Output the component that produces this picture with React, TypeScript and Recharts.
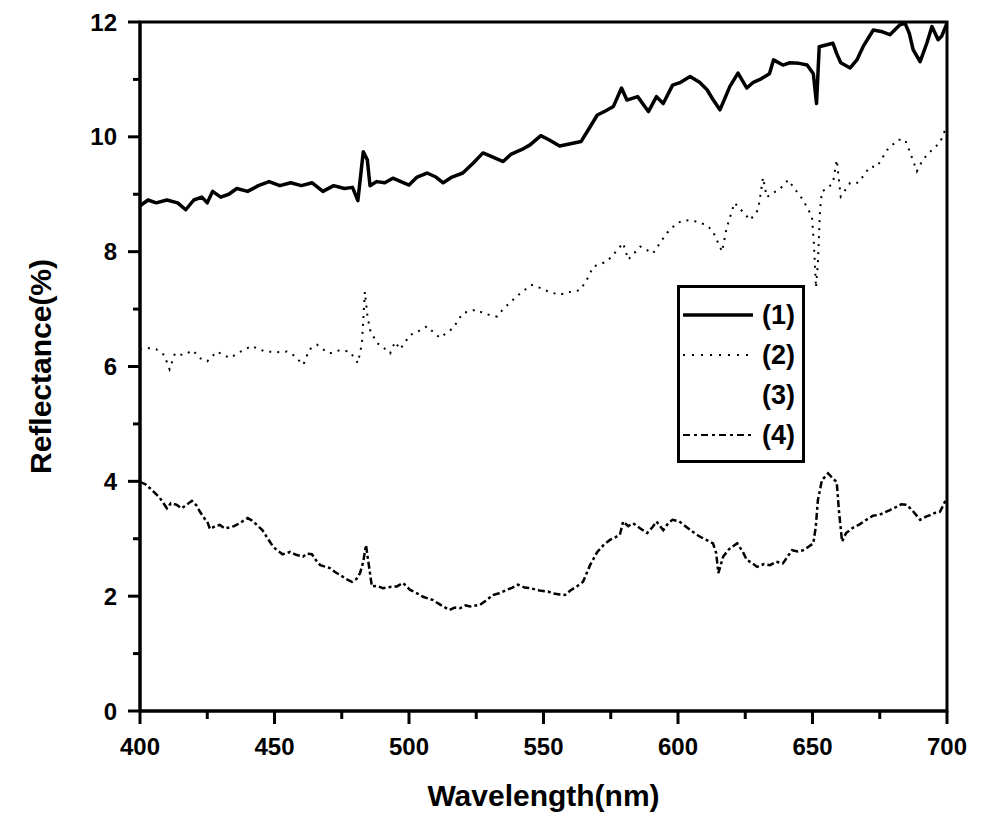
import React from 'react';
import { LineChart, Line, XAxis, YAxis, ReferenceArea, Legend, Label } from 'recharts';

// Series (1): solid
const S1_WL = [400, 403, 406, 410, 414, 417, 420, 423, 425, 427, 430, 433, 436, 440, 444, 448, 452, 456, 460, 464, 468, 472, 476, 479, 481, 483, 484.5, 485.5, 488, 491, 494, 497, 500, 503, 506.7, 510, 512.7, 516, 520, 524, 527.5, 531, 535, 538, 542, 545, 549, 552, 556, 560, 564, 567, 570, 573, 576, 579, 581, 585, 589, 592, 594.5, 598, 601, 604.5, 608, 610.8, 613, 615.6, 619.3, 622.3, 625.6, 628, 630.5, 634, 635.5, 639, 641.6, 645, 648, 650.3, 651.5, 652.5, 655, 657.6, 659, 660.5, 664, 666.5, 668.8, 672.6, 676, 678.8, 682.5, 684.4, 686, 687.4, 690, 692.5, 694.4, 696.7, 698, 700];
const S1_R = [8.8, 8.9, 8.85, 8.9, 8.85, 8.73, 8.9, 8.95, 8.85, 9.05, 8.95, 9.0, 9.1, 9.05, 9.15, 9.22, 9.15, 9.2, 9.15, 9.2, 9.05, 9.15, 9.1, 9.12, 8.89, 9.74, 9.6, 9.15, 9.22, 9.2, 9.28, 9.22, 9.16, 9.3, 9.37, 9.3, 9.2, 9.3, 9.37, 9.55, 9.72, 9.65, 9.57, 9.7, 9.78, 9.86, 10.02, 9.95, 9.84, 9.88, 9.92, 10.15, 10.38, 10.45, 10.53, 10.85, 10.64, 10.7, 10.44, 10.7, 10.58, 10.9, 10.95, 11.05, 10.95, 10.82, 10.65, 10.47, 10.88, 11.11, 10.85, 10.95, 11.0, 11.1, 11.34, 11.25, 11.29, 11.28, 11.25, 11.1, 10.58, 11.57, 11.6, 11.63, 11.45, 11.29, 11.2, 11.34, 11.57, 11.86, 11.83, 11.78, 11.95, 11.98, 11.8, 11.52, 11.31, 11.63, 11.92, 11.69, 11.75, 11.98];

// Series (2): dotted
const S2_WL = [400, 403, 406, 409, 411, 413, 416, 419.7, 422, 425, 428.6, 431, 433.5, 437, 441.6, 444, 447, 451, 454.6, 457, 460.7, 463, 465.8, 468, 470.6, 474, 478, 481, 482.5, 483.6, 484.5, 485.5, 488, 490, 493, 494.8, 496.7, 500.4, 503, 506.7, 509, 511.5, 516.4, 520, 525, 528, 532.7, 535, 538.6, 542, 545.7, 548.7, 552, 556, 560, 563.6, 566, 568.5, 573.6, 576, 579.6, 581.5, 586, 590.7, 594, 596, 599.6, 603, 607.5, 611, 613, 616.4, 618, 621, 624, 626.8, 629.8, 631.6, 633, 635.3, 638, 641, 642.8, 646.5, 649.8, 650.5, 651.3, 652, 652.8, 653.5, 655.5, 657.6, 659, 660.5, 664, 667, 671.4, 674, 677.7, 681.8, 684.4, 686.2, 688.8, 691, 693.7, 697.4, 699.3, 700];
const S2_R = [6.3, 6.32, 6.3, 6.2, 5.95, 6.23, 6.2, 6.28, 6.15, 6.09, 6.26, 6.2, 6.15, 6.25, 6.36, 6.3, 6.26, 6.25, 6.26, 6.2, 6.03, 6.3, 6.38, 6.3, 6.23, 6.28, 6.26, 6.06, 6.4, 7.3, 6.9, 6.64, 6.41, 6.35, 6.23, 6.43, 6.3, 6.55, 6.6, 6.7, 6.6, 6.5, 6.67, 6.93, 6.99, 6.92, 6.87, 7.0, 7.16, 7.3, 7.42, 7.37, 7.3, 7.25, 7.3, 7.33, 7.5, 7.74, 7.83, 7.95, 8.15, 7.86, 8.09, 7.97, 8.2, 8.33, 8.5, 8.55, 8.52, 8.45, 8.35, 8.0, 8.4, 8.85, 8.7, 8.55, 8.73, 9.29, 8.95, 9.02, 9.1, 9.25, 9.13, 8.9, 8.61, 8.15, 7.37, 7.8, 8.73, 9.05, 9.1, 9.2, 9.6, 8.96, 9.2, 9.2, 9.48, 9.48, 9.77, 9.95, 9.95, 9.74, 9.4, 9.6, 9.74, 9.9, 10.12, 10.2];

// Series (4): dash-dot
const S4_WL = [400, 402, 403.7, 405.5, 407.4, 410, 411.5, 413.7, 415.5, 417.5, 419.3, 421, 422.3, 424, 425, 426, 428, 429.7, 431.5, 433.5, 435, 437, 440, 441.5, 443.5, 445.5, 447, 449.5, 451, 453, 455.8, 458, 460.6, 462, 463.9, 465.5, 467, 470.6, 472.5, 474.4, 476.5, 478.8, 480.5, 481.8, 483, 484, 484.8, 486.2, 488, 490.3, 493, 495.5, 497.8, 500.4, 503, 505.2, 509, 511, 512.7, 515, 517, 519, 521, 522.7, 526.4, 528.5, 531.2, 533.5, 536.4, 538.5, 540.5, 543, 545, 548.5, 551.7, 553.5, 556, 558, 560, 562.4, 564.7, 567.3, 570, 572.5, 574.7, 576.5, 578.4, 579.6, 581.5, 583.3, 586, 588.5, 590.5, 592, 594.5, 596.5, 598, 600.5, 603, 605.5, 608, 610.5, 613, 614.2, 615, 616.8, 619, 622, 624, 625.6, 627.5, 629.4, 632, 634.2, 636.5, 639, 642.4, 644.5, 646.5, 648.5, 650.3, 651.2, 652, 653.5, 655.8, 657.5, 659, 659.8, 661, 662.5, 665, 667.5, 670, 672.5, 675, 678.8, 681, 683, 685, 687, 690, 692, 693.7, 695.5, 697.4, 699.3, 700];
const S4_R = [3.99, 3.95, 3.88, 3.8, 3.71, 3.53, 3.62, 3.59, 3.53, 3.6, 3.66, 3.58, 3.47, 3.35, 3.3, 3.17, 3.22, 3.24, 3.18, 3.2, 3.22, 3.27, 3.36, 3.32, 3.24, 3.15, 3.04, 2.86, 2.8, 2.73, 2.77, 2.72, 2.69, 2.74, 2.73, 2.62, 2.54, 2.49, 2.42, 2.37, 2.3, 2.25, 2.3, 2.4, 2.6, 2.89, 2.63, 2.17, 2.18, 2.14, 2.16, 2.17, 2.23, 2.11, 2.05, 1.99, 1.93, 1.87, 1.82, 1.76, 1.8, 1.79, 1.84, 1.82, 1.85, 1.92, 2.02, 2.05, 2.11, 2.15, 2.2, 2.15, 2.14, 2.1, 2.08, 2.05, 2.03, 2.02, 2.1, 2.17, 2.25, 2.54, 2.77, 2.9, 2.98, 3.02, 3.07, 3.3, 3.22, 3.27, 3.18, 3.1, 3.2, 3.3, 3.15, 3.28, 3.33, 3.3, 3.21, 3.12, 3.04, 2.98, 2.92, 2.75, 2.4, 2.69, 2.82, 2.92, 2.78, 2.63, 2.58, 2.51, 2.56, 2.54, 2.6, 2.57, 2.8, 2.78, 2.8, 2.86, 2.92, 3.2, 3.67, 4.02, 4.14, 4.05, 3.99, 3.5, 2.95, 3.1, 3.19, 3.25, 3.33, 3.4, 3.42, 3.5, 3.55, 3.6, 3.59, 3.5, 3.33, 3.38, 3.41, 3.45, 3.47, 3.65, 3.7];

const X_TICKS = [400, 425, 450, 475, 500, 525, 550, 575, 600, 625, 650, 675, 700];
const X_LABELED = [400, 450, 500, 550, 600, 650, 700];
const Y_TICKS = [0, 1, 2, 3, 4, 5, 6, 7, 8, 9, 10, 11, 12];
const Y_LABELED = [0, 2, 4, 6, 8, 10, 12];

const LEGEND_NAMES = ['(1)', '(2)', '(3)', '(4)'];
const LEGEND_DASH = ['', '2 7', 'none', '7 4 3 4'];

const FONT = '"Liberation Sans", Arial, Helvetica, sans-serif';
const TICK_MARGIN = 4;

const toRows = (wl: number[], r: number[]) => wl.map((w, i) => ({ wl: w, r: r[i] }));
const data1 = toRows(S1_WL, S1_R);
const data2 = toRows(S2_WL, S2_R);
const data4 = toRows(S4_WL, S4_R);

const XTick = (props: any) => {
  const { x, y, payload } = props;
  const axisY = y - TICK_MARGIN;
  const major = X_LABELED.includes(payload.value);
  return (
    <g>
      <line x1={x} x2={x} y1={axisY} y2={axisY + (major ? 13 : 8)} stroke="#000" strokeWidth={3} />
      {major && (
        <text x={x} y={axisY + 44} textAnchor="middle" fontFamily={FONT} fontWeight="bold" fontSize={24} fill="#000">
          {payload.value}
        </text>
      )}
    </g>
  );
};

const YTick = (props: any) => {
  const { x, y, payload } = props;
  const axisX = x + TICK_MARGIN;
  const major = Y_LABELED.includes(payload.value);
  return (
    <g>
      <line x1={axisX - (major ? 12 : 7)} x2={axisX} y1={y} y2={y} stroke="#000" strokeWidth={3} />
      {major && (
        <text x={axisX - 23} y={y + 8.5} textAnchor="end" fontFamily={FONT} fontWeight="bold" fontSize={24} fill="#000">
          {payload.value}
        </text>
      )}
    </g>
  );
};

const LegendBox = () => (
  <svg width={128} height={178} style={{ display: 'block' }}>
    <rect x={1.5} y={1.5} width={125} height={175} fill="#fff" stroke="#000" strokeWidth={3} />
    {LEGEND_NAMES.map((name, i) => {
      const cy = 30 + i * 40;
      return (
        <g key={name}>
          {LEGEND_DASH[i] !== 'none' && (
            <line
              x1={6}
              x2={76}
              y1={cy}
              y2={cy}
              stroke="#000"
              strokeWidth={i === 0 ? 3.5 : 2}
              strokeDasharray={LEGEND_DASH[i] || undefined}
            />
          )}
          <text x={85} y={cy + 9} fontFamily={FONT} fontWeight="bold" fontSize={27} fill="#000">
            {name}
          </text>
        </g>
      );
    })}
  </svg>
);

export default function App() {
  return (
    <div style={{ position: 'absolute', left: 0, top: 0, width: 991, height: 825, background: '#fff' }}>
      <LineChart width={991} height={825} margin={{ top: 22, right: 44, bottom: 24, left: 60 }}>
        <XAxis
          dataKey="wl"
          type="number"
          domain={[400, 700]}
          ticks={X_TICKS}
          interval={0}
          allowDataOverflow
          height={90}
          tickSize={0}
          tickMargin={TICK_MARGIN}
          tickLine={false}
          axisLine={{ stroke: '#000', strokeWidth: 3 }}
          tick={<XTick />}
        >
          <Label
            value="Wavelength(nm)"
            position="center"
            dy={39}
            style={{ fontFamily: FONT, fontWeight: 'bold', fontSize: 30, fill: '#000' }}
          />
        </XAxis>
        <YAxis
          type="number"
          domain={[0, 12]}
          ticks={Y_TICKS}
          interval={0}
          allowDataOverflow
          width={80}
          tickSize={0}
          tickMargin={TICK_MARGIN}
          tickLine={false}
          axisLine={{ stroke: '#000', strokeWidth: 3 }}
          tick={<YTick />}
        >
          <Label
            value="Reflectance(%)"
            position="center"
            angle={-90}
            dx={-60}
            style={{ fontFamily: FONT, fontWeight: 'bold', fontSize: 30, fill: '#000', textAnchor: 'middle' }}
          />
        </YAxis>
        <Line data={data1} dataKey="r" name="(1)" type="linear" stroke="#000" strokeWidth={3.5} strokeLinejoin="round" dot={false} isAnimationActive={false} />
        <Line data={data2} dataKey="r" name="(2)" type="linear" stroke="#000" strokeWidth={2} strokeDasharray="2 6" dot={false} isAnimationActive={false} />
        <Line data={data4} dataKey="r" name="(4)" type="linear" stroke="#000" strokeWidth={2.5} strokeDasharray="7 3 3 3" dot={false} isAnimationActive={false} />
        <ReferenceArea x1={400} x2={700} y1={0} y2={12} fill="none" stroke="#000" strokeWidth={3} ifOverflow="visible" />
        <Legend
          layout="horizontal"
          verticalAlign="middle"
          align="center"
          content={<LegendBox />}
          wrapperStyle={{ left: 677, top: 285, width: 128, height: 178 }}
        />
      </LineChart>
    </div>
  );
}
